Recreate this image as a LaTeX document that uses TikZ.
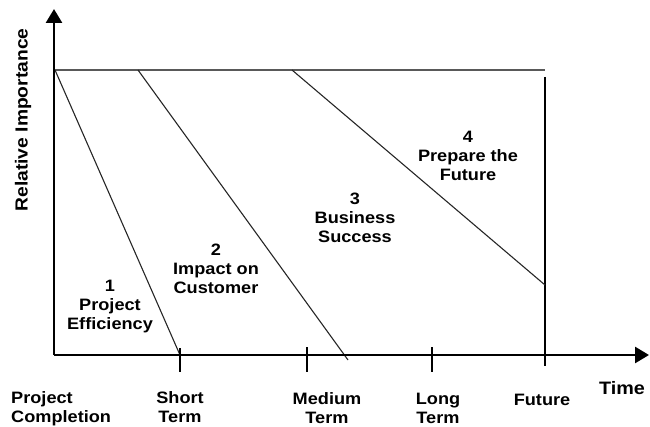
\documentclass[tikz,border=0pt]{standalone}
\usepackage{fontspec}
\setmainfont[FakeStretch=1.1]{Liberation Sans}
\usetikzlibrary{arrows.meta}
\tikzset{
  axis/.style={line width=2.6pt,-{Triangle[length=14pt,width=16pt]}},
  diag/.style={line width=1.1pt,draw=black!85},
  topline/.style={line width=1.8pt,draw=black!65},
  tick/.style={line width=1.3pt},
  lbl/.style={font=\fontsize{16.5}{19}\selectfont\bfseries,align=center,anchor=base,inner sep=0pt},
}
\begin{document}
\begin{tikzpicture}[x=1pt,y=-1pt]
\useasboundingbox (0,0) rectangle (650,427);
% key points
\coordinate (O) at (54,355);
\coordinate (Ytop) at (54,9);
\coordinate (Xend) at (649,355);
\coordinate (T0) at (55,70);
\coordinate (T1) at (138,70);
\coordinate (T2) at (292,70);
\coordinate (T3) at (545,70);
\coordinate (Vtop) at (545,77);
\coordinate (Vbot) at (545,366);
\coordinate (E1) at (180,355);
\coordinate (E2) at (348,360);
\coordinate (E3) at (545,285);
\coordinate (S1) at (180,348);
\coordinate (S2) at (180,372);
\coordinate (M1) at (307,347);
\coordinate (M2) at (307,372);
\coordinate (L1) at (432,347);
\coordinate (L2) at (432,372);
% lines
\draw[topline] (T0) -- (T3);
\draw[line width=1.5pt] (Vtop) -- (Vbot);
\draw[diag] (T0) -- (E1);
\draw[diag] (T1) -- (E2);
\draw[diag] (T2) -- (E3);
\draw[tick] (S1) -- (S2);
\draw[tick] (M1) -- (M2);
\draw[tick] (L1) -- (L2);
\draw[axis] (O) -- (Ytop);
\draw[axis] (O) -- (Xend);
% region labels (anchor = baseline of last line)
\node[lbl] (r1) at (110,330) {1\\Project\\Efficiency};
\node[lbl] (r2) at (216,294) {2\\Impact on\\Customer};
\node[lbl] (r3) at (355,243) {3\\Business\\Success};
\node[lbl] (r4) at (468,181) {4\\Prepare the\\Future};
% axis labels
\node[lbl,align=left,anchor=base west] (pc) at (11,422) {Project\\Completion};
\node[lbl] (st) at (180,422) {Short\\Term};
\node[lbl] (mt) at (327,423) {Medium\\Term};
\node[lbl] (lt) at (438,423) {Long\\Term};
\node[lbl] (fu) at (542,405) {Future};
\node[lbl,font=\fontsize{18}{21}\selectfont\bfseries] (ti) at (622,394) {Time};
\node[lbl,font=\fontsize{17.5}{21}\selectfont\bfseries,rotate=90,anchor=center] (ri) at (23,120) {Relative Importance};
\end{tikzpicture}
\end{document}
